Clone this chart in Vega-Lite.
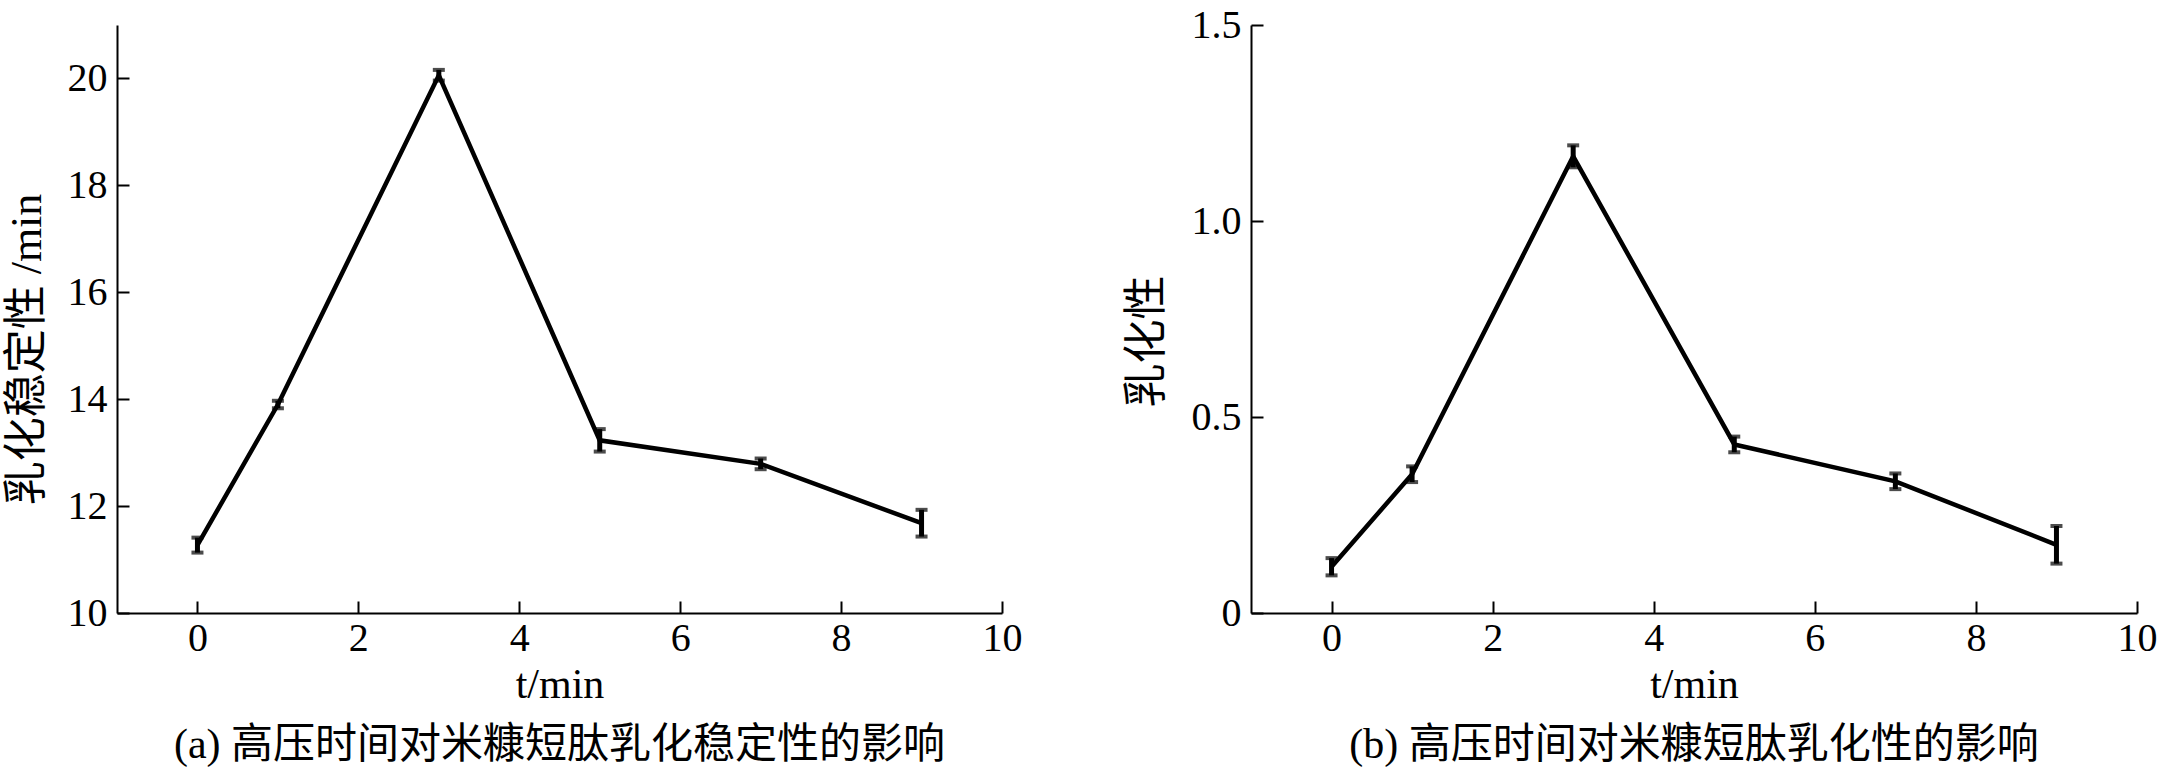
{
  "$schema": "https://vega.github.io/schema/vega-lite/v6.json",
  "background": "white",
  "padding": {"left": 5, "top": 5, "right": 0, "bottom": 5},
  "datasets": {
    "a": [
      {"t": 0, "v": 11.27, "e": 0.14},
      {"t": 1, "v": 13.9, "e": 0.07},
      {"t": 3, "v": 20.06, "e": 0.1},
      {"t": 5, "v": 13.23, "e": 0.21},
      {"t": 7, "v": 12.79, "e": 0.1},
      {"t": 9, "v": 11.68, "e": 0.25}
    ],
    "b": [
      {"t": 0, "v": 0.118, "e": 0.022},
      {"t": 1, "v": 0.354, "e": 0.02},
      {"t": 3, "v": 1.165, "e": 0.028},
      {"t": 5, "v": 0.43, "e": 0.02},
      {"t": 7, "v": 0.336, "e": 0.02},
      {"t": 9, "v": 0.174, "e": 0.048}
    ]
  },
  "config": {
    "view": {"stroke": null},
    "font": "Liberation Serif",
    "axis": {
      "grid": false,
      "domainColor": "black",
      "domainWidth": 2,
      "tickColor": "black",
      "tickWidth": 2,
      "tickSize": -12,
      "labelFont": "Liberation Serif",
      "labelFontSize": 40,
      "labelColor": "black",
      "labelFlush": false,
      "titleFont": "Liberation Serif, Noto Sans CJK SC",
      "titleFontWeight": "normal",
      "titleColor": "black"
    },
    "axisX": {"labelPadding": 17, "titleFontSize": 42, "titlePadding": 6},
    "axisY": {"labelPadding": 22, "titleFontSize": 44},
    "title": {
      "orient": "bottom",
      "anchor": "middle",
      "font": "Liberation Serif, Noto Sans CJK SC",
      "fontSize": 42,
      "fontWeight": "normal",
      "color": "black",
      "offset": 20
    }
  },
  "spacing": 103,
  "hconcat": [
    {
      "width": 885,
      "height": 588,
      "title": "(a) 高压时间对米糠短肽乳化稳定性的影响",
      "data": {"name": "a"},
      "encoding": {
        "x": {
          "field": "t",
          "type": "quantitative",
          "scale": {"domain": [-1, 10], "nice": false, "zero": false},
          "axis": {"title": "t/min", "values": [0, 2, 4, 6, 8, 10]}
        },
        "y": {
          "field": "v",
          "type": "quantitative",
          "scale": {"domain": [10, 21], "nice": false, "zero": false},
          "axis": {
            "title": "乳化稳定性 /min",
            "values": [10, 12, 14, 16, 18, 20],
            "titlePadding": 18,
            "titleY": 324
          }
        }
      },
      "layer": [
        {"mark": {"type": "line", "color": "black", "strokeWidth": 4.5}},
        {
          "mark": {
            "type": "errorbar",
            "color": "black",
            "ticks": {"size": 12, "thickness": 4},
            "rule": {"strokeWidth": 5}
          },
          "encoding": {"yError": {"field": "e"}}
        }
      ]
    },
    {
      "width": 886,
      "height": 588,
      "title": "(b) 高压时间对米糠短肽乳化性的影响",
      "data": {"name": "b"},
      "encoding": {
        "x": {
          "field": "t",
          "type": "quantitative",
          "scale": {"domain": [-1, 10], "nice": false, "zero": false},
          "axis": {"title": "t/min", "values": [0, 2, 4, 6, 8, 10]}
        },
        "y": {
          "field": "v",
          "type": "quantitative",
          "scale": {"domain": [0, 1.5], "nice": false, "zero": false},
          "axis": {
            "title": "乳化性",
            "values": [0, 0.5, 1, 1.5],
            "labelExpr": "datum.value == 0 ? '0' : format(datum.value, '.1f')",
            "titlePadding": 22,
            "titleY": 316
          }
        }
      },
      "layer": [
        {"mark": {"type": "line", "color": "black", "strokeWidth": 4.5}},
        {
          "mark": {
            "type": "errorbar",
            "color": "black",
            "ticks": {"size": 12, "thickness": 4},
            "rule": {"strokeWidth": 5}
          },
          "encoding": {"yError": {"field": "e"}}
        }
      ]
    }
  ]
}
